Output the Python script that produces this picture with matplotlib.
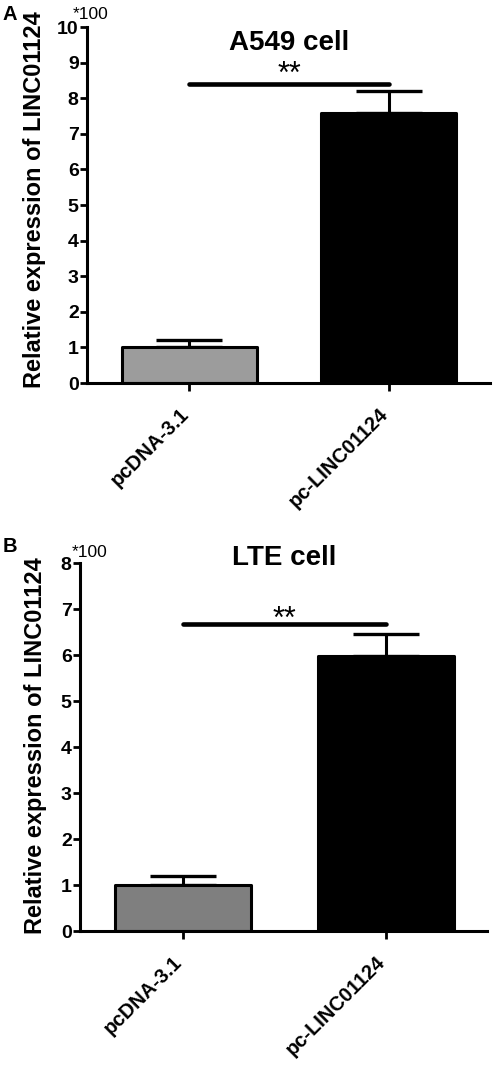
import matplotlib
matplotlib.use("Agg")
import matplotlib.pyplot as plt

plt.rcParams['font.family'] = ['Liberation Sans', 'DejaVu Sans']

categories = ["pcDNA-3.1", "pc-LINC01124"]
a549_values = [1.0, 7.58]
a549_errors = [0.2, 0.63]
lte_values = [1.0, 5.97]
lte_errors = [0.2, 0.49]
a549_yticks = list(range(0, 11))
lte_yticks = list(range(0, 9))

fig = plt.figure(figsize=(4.94, 10.70), dpi=100)

def panel(rect, values, errors, yticks, ymax, title, title_y, sig_y, star_y,
          bar_color, xlim, bar_w, letter, letter_y, ylabel_x, ylabel_y,
          mult_x, mult_y):
    ax = fig.add_axes(rect)
    x = list(range(len(categories)))
    ax.bar(x, values, width=bar_w, color=[bar_color, 'black'], edgecolor='black',
           linewidth=2.2, joinstyle='round', zorder=2)
    ax.errorbar(x, values, yerr=[[0] * len(errors), errors], fmt='none',
                ecolor='black', elinewidth=2.2, capsize=23.5, capthick=2.4, zorder=1)
    ax.plot([0, 1], [sig_y, sig_y], color='black', lw=3.3, solid_capstyle='round',
            clip_on=False)
    ax.text(0.5, star_y, "**", ha='center', va='center', fontsize=22, clip_on=False)
    ax.text(0.5, title_y, title, ha='center', va='center', fontsize=20,
            fontweight='bold')
    ax.set_xlim(*xlim)
    ax.set_ylim(0, ymax)
    ax.set_yticks(yticks)
    ax.set_yticklabels([str(t) for t in yticks], fontsize=14, fontweight='bold')
    ax.set_xticks(x)
    ax.set_xticklabels(categories, rotation=45, ha='right', va='baseline',
                       rotation_mode='anchor', fontsize=14.5, fontweight='bold')
    for s in ['top', 'right']:
        ax.spines[s].set_visible(False)
    for s in ['left', 'bottom']:
        ax.spines[s].set_linewidth(2.2)
    ax.tick_params(axis='y', direction='out', length=5, width=2, pad=1)
    ax.tick_params(axis='x', direction='out', length=6, width=2, pad=17)
    ax.text(ylabel_x, ylabel_y, "Relative expression of LINC01124",
            transform=ax.transAxes, rotation=90, ha='center', va='center',
            fontsize=17, fontweight='bold')
    ax.text(mult_x, mult_y, "*100", transform=ax.transAxes, ha='left',
            va='bottom', fontsize=12.5)
    fig.text(0.005, letter_y, letter, ha='left', va='center', fontsize=14.5,
             fontweight='bold')
    return ax

panel([87 / 494, 1 - 383 / 1070, 403 / 494, 356 / 1070],
      a549_values, a549_errors, a549_yticks, 10, "A549 cell", 9.56, 8.4, 8.65,
      '#9c9c9c', (-0.515, 1.51), 0.68, "A", 1 - 15 / 1070, -0.13, 0.514,
      -0.035, 1.015)

panel([80 / 494, 1 - 931 / 1070, 407 / 494, 368 / 1070],
      lte_values, lte_errors, lte_yticks, 8, "LTE cell", 8.1, 6.67, 6.76,
      '#7f7f7f', (-0.51, 1.50), 0.67, "B", 1 - 547 / 1070, -0.11, 0.505,
      -0.02, 1.008)

fig.savefig("out.png", dpi=100)
